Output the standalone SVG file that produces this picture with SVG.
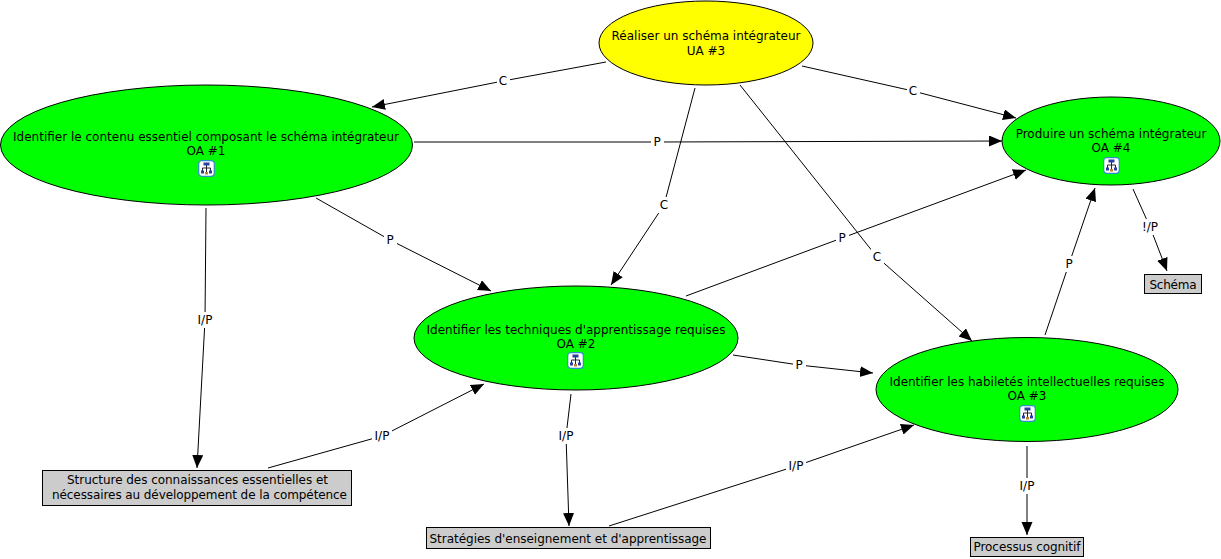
<svg xmlns="http://www.w3.org/2000/svg" width="1221" height="559" viewBox="0 0 1221 559">
<style>
text{font-family:"DejaVu Sans",Verdana,sans-serif;font-size:12px;fill:#000;text-anchor:middle}
.c polyline{stroke:#000;stroke-width:1;fill:none;marker-end:url(#a)}
.c rect{fill:#fff}
.n ellipse,.n rect.b{stroke:#000;stroke-width:1}
.g{fill:#00ff00}.y{fill:#ffff00}.b{fill:#cccccc}
</style>
<defs>
<marker id="a" markerUnits="userSpaceOnUse" markerWidth="14" markerHeight="12" refX="13" refY="5.5" orient="auto"><path d="M0 0L13 5.500L0 11z" fill="#000"/></marker>
<symbol id="i" width="17" height="17" viewBox="0 0 17 17">
<rect x=".7" y=".7" width="15.600" height="15.600" rx="3" fill="#fff" stroke="#2f8fc8" stroke-width="1.200"/>
<path d="M8.500 5V12M4.500 11V8H12.500V11" stroke="#223" stroke-width="1" fill="none"/>
<rect x="5.500" y="2.500" width="6" height="3" fill="#2a3f9f"/>
<rect x="3" y="10.500" width="3" height="3" fill="#2a3f9f"/>
<rect x="11" y="10.500" width="3" height="3" fill="#2a3f9f"/>
<rect x="7" y="12" width="3" height="2.500" fill="#c08030"/>
</symbol>
</defs>
<rect width="1221" height="559" fill="#fff"/>
<g id="connectors" class="c">
<polyline points="606,62 503,81 372,107"/><rect x="497" y="73" width="13" height="16"/><text x="503" y="85">C</text>
<polyline points="802,66 913,91 1016,118"/><rect x="907" y="83" width="13" height="16"/><text x="913" y="95">C</text>
<polyline points="414,142 657,142 1002,141"/><rect x="651" y="134" width="13" height="16"/><text x="657" y="146">P</text>
<polyline points="695,88 664,205 611,285"/><rect x="658" y="197" width="13" height="16"/><text x="664" y="209">C</text>
<polyline points="740,85 877,257 972,341"/><rect x="871" y="249" width="13" height="16"/><text x="877" y="261">C</text>
<polyline points="316,198 390,240 491,291"/><rect x="384" y="232" width="13" height="16"/><text x="390" y="244">P</text>
<polyline points="206,208 205,320 197,468"/><rect x="195" y="312" width="20" height="16"/><text x="205" y="324">I/P</text>
<polyline points="686,296 842,238 1026,170"/><rect x="836" y="230" width="13" height="16"/><text x="842" y="242">P</text>
<polyline points="733,355 799,365 873,373"/><rect x="793" y="357" width="13" height="16"/><text x="799" y="369">P</text>
<polyline points="1045,335 1069,264 1095,188"/><rect x="1063" y="256" width="13" height="16"/><text x="1069" y="268">P</text>
<polyline points="1133,189 1150,227 1167,271"/><rect x="1140" y="219" width="20" height="16"/><text x="1150" y="231">!/P</text>
<polyline points="268,468 382,436 484,384"/><rect x="372" y="428" width="20" height="16"/><text x="382" y="440">I/P</text>
<polyline points="571,394 566,436 569,526"/><rect x="556" y="428" width="20" height="16"/><text x="566" y="440">I/P</text>
<polyline points="609,526 796,466 914,425"/><rect x="786" y="458" width="20" height="16"/><text x="796" y="470">I/P</text>
<polyline points="1027,446 1027,486 1027,535"/><rect x="1017" y="478" width="20" height="16"/><text x="1027" y="490">I/P</text>
</g>
<g id="ua3" class="n"><ellipse class="y" cx="706" cy="43" rx="107" ry="42"/><text x="706" y="40">Réaliser un schéma intégrateur</text><text x="706" y="55">UA #3</text></g>
<g id="oa1" class="n"><ellipse class="g" cx="206.500" cy="145" rx="206" ry="60"/><text x="206" y="141" textLength="386">Identifier le contenu essentiel composant le schéma intégrateur</text><text x="206" y="155">OA #1</text><use href="#i" x="198" y="160"/></g>
<g id="oa2" class="n"><ellipse class="g" cx="576" cy="338" rx="162" ry="52"/><text x="576" y="334" textLength="299">Identifier les techniques d'apprentissage requises</text><text x="576" y="348">OA #2</text><use href="#i" x="567" y="352"/></g>
<g id="oa3" class="n"><ellipse class="g" cx="1027" cy="389.500" rx="151" ry="52"/><text x="1027" y="386" textLength="275">Identifier les habiletés intellectuelles requises</text><text x="1027" y="400">OA #3</text><use href="#i" x="1019" y="405"/></g>
<g id="oa4" class="n"><ellipse class="g" cx="1111" cy="141" rx="109" ry="44"/><text x="1111" y="138">Produire un schéma intégrateur</text><text x="1111" y="152">OA #4</text><use href="#i" x="1103" y="157"/></g>
<g id="c1" class="n"><rect class="b" x="42.500" y="470.500" width="309" height="35"/><text x="197.500" y="484" textLength="261">Structure des connaissances essentielles et</text><text x="199.500" y="499" textLength="295">nécessaires au développement de la compétence</text></g>
<g id="c2" class="n"><rect class="b" x="426.500" y="527.500" width="284" height="21"/><text x="568" y="543" textLength="277">Stratégies d'enseignement et d'apprentissage</text></g>
<g id="c3" class="n"><rect class="b" x="970.500" y="537.500" width="113" height="19"/><text x="1027" y="551" textLength="107">Processus cognitif</text></g>
<g id="c4" class="n"><rect class="b" x="1144.500" y="274.500" width="57" height="19"/><text x="1173" y="289" textLength="47">Schéma</text></g>
</svg>
